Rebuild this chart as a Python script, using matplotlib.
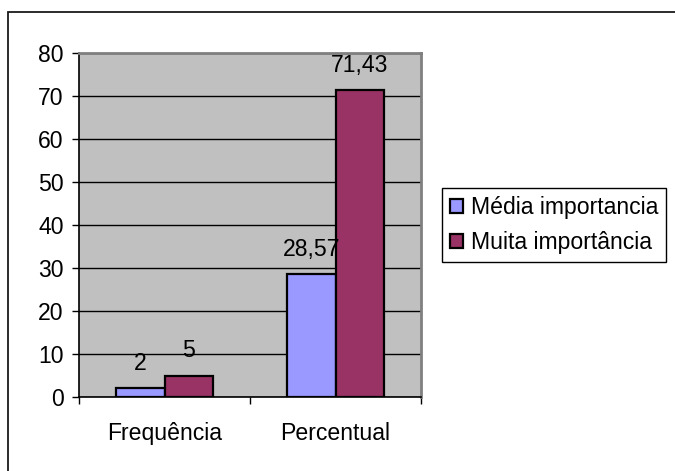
import matplotlib
matplotlib.use("Agg")
import matplotlib.pyplot as plt
from matplotlib.patches import Rectangle
import numpy as np

# --- data ---
categories = ["Frequência", "Percentual"]
series_names = ["Média importancia", "Muita importância"]
media = [2, 28.57]
muita = [5, 71.43]
media_labels = ["2", "28,57"]
muita_labels = ["5", "71,43"]
y_ticks = [0, 10, 20, 30, 40, 50, 60, 70, 80]

plt.rcParams["font.family"] = ["Liberation Sans", "DejaVu Sans"]
FS = 16.6

fig = plt.figure(figsize=(6.75, 4.71), dpi=100, facecolor="white")

# outer chart border (cropped at right/bottom in the reference)
fig.patches.append(Rectangle((8 / 675, -0.05), 1.1, 1 - 12 / 471 + 0.05,
                             transform=fig.transFigure, fill=False,
                             edgecolor="#1a1a1a", linewidth=1.3))

ax = fig.add_axes([79 / 675, 1 - 397 / 471, (421 - 79) / 675, (397 - 53) / 471])
ax.set_facecolor("#C0C0C0")

x = np.arange(len(categories))
w = 0.283
b1 = ax.bar(x - w / 2, media, w, color="#9999FF", edgecolor="black", linewidth=1.6, zorder=3)
b2 = ax.bar(x + w / 2, muita, w, color="#993366", edgecolor="black", linewidth=1.6, zorder=3)

for bars, labels in [(b1, media_labels), (b2, muita_labels)]:
    for rect, lab in zip(bars, labels):
        ax.annotate(lab, (rect.get_x() + rect.get_width() / 2, rect.get_height()),
                    xytext=(0, 13), textcoords="offset points",
                    ha="center", va="baseline", fontsize=FS, color="black")

ax.set_xlim(-0.5, len(categories) - 0.5)
ax.set_ylim(0, 80)
ax.set_yticks(y_ticks)
ax.set_yticklabels([str(v) for v in y_ticks], fontsize=FS)
ax.yaxis.grid(True, color="black", linewidth=1.0, zorder=1)
ax.set_axisbelow(True)

# category labels centred, ticks at category boundaries
ax.set_xticks(x)
ax.set_xticklabels(categories, fontsize=FS)
ax.tick_params(axis="x", length=0, pad=18)
ax.set_xticks(np.arange(len(categories) + 1) - 0.5, minor=True)
ax.tick_params(axis="x", which="minor", length=5, width=1.0, color="black")
ax.tick_params(axis="y", length=5, width=1.0, color="black", pad=6)

for side in ["top", "right"]:
    ax.spines[side].set_color("#808080")
    ax.spines[side].set_linewidth(2)
ax.spines["left"].set_color("black")
ax.spines["bottom"].set_color("black")
ax.spines["left"].set_linewidth(1.2)
ax.spines["bottom"].set_linewidth(1.2)

leg = fig.legend([b1, b2], series_names, loc="center left",
                 bbox_to_anchor=(442 / 675, 1 - 225 / 471), fontsize=FS,
                 frameon=True, fancybox=False, edgecolor="black", framealpha=1,
                 handlelength=0.55, handleheight=0.55, handletextpad=0.35,
                 borderpad=0.35, labelspacing=0.5, borderaxespad=0)
leg.get_frame().set_linewidth(1.0)

fig.savefig("out.png", dpi=100, facecolor="white")
